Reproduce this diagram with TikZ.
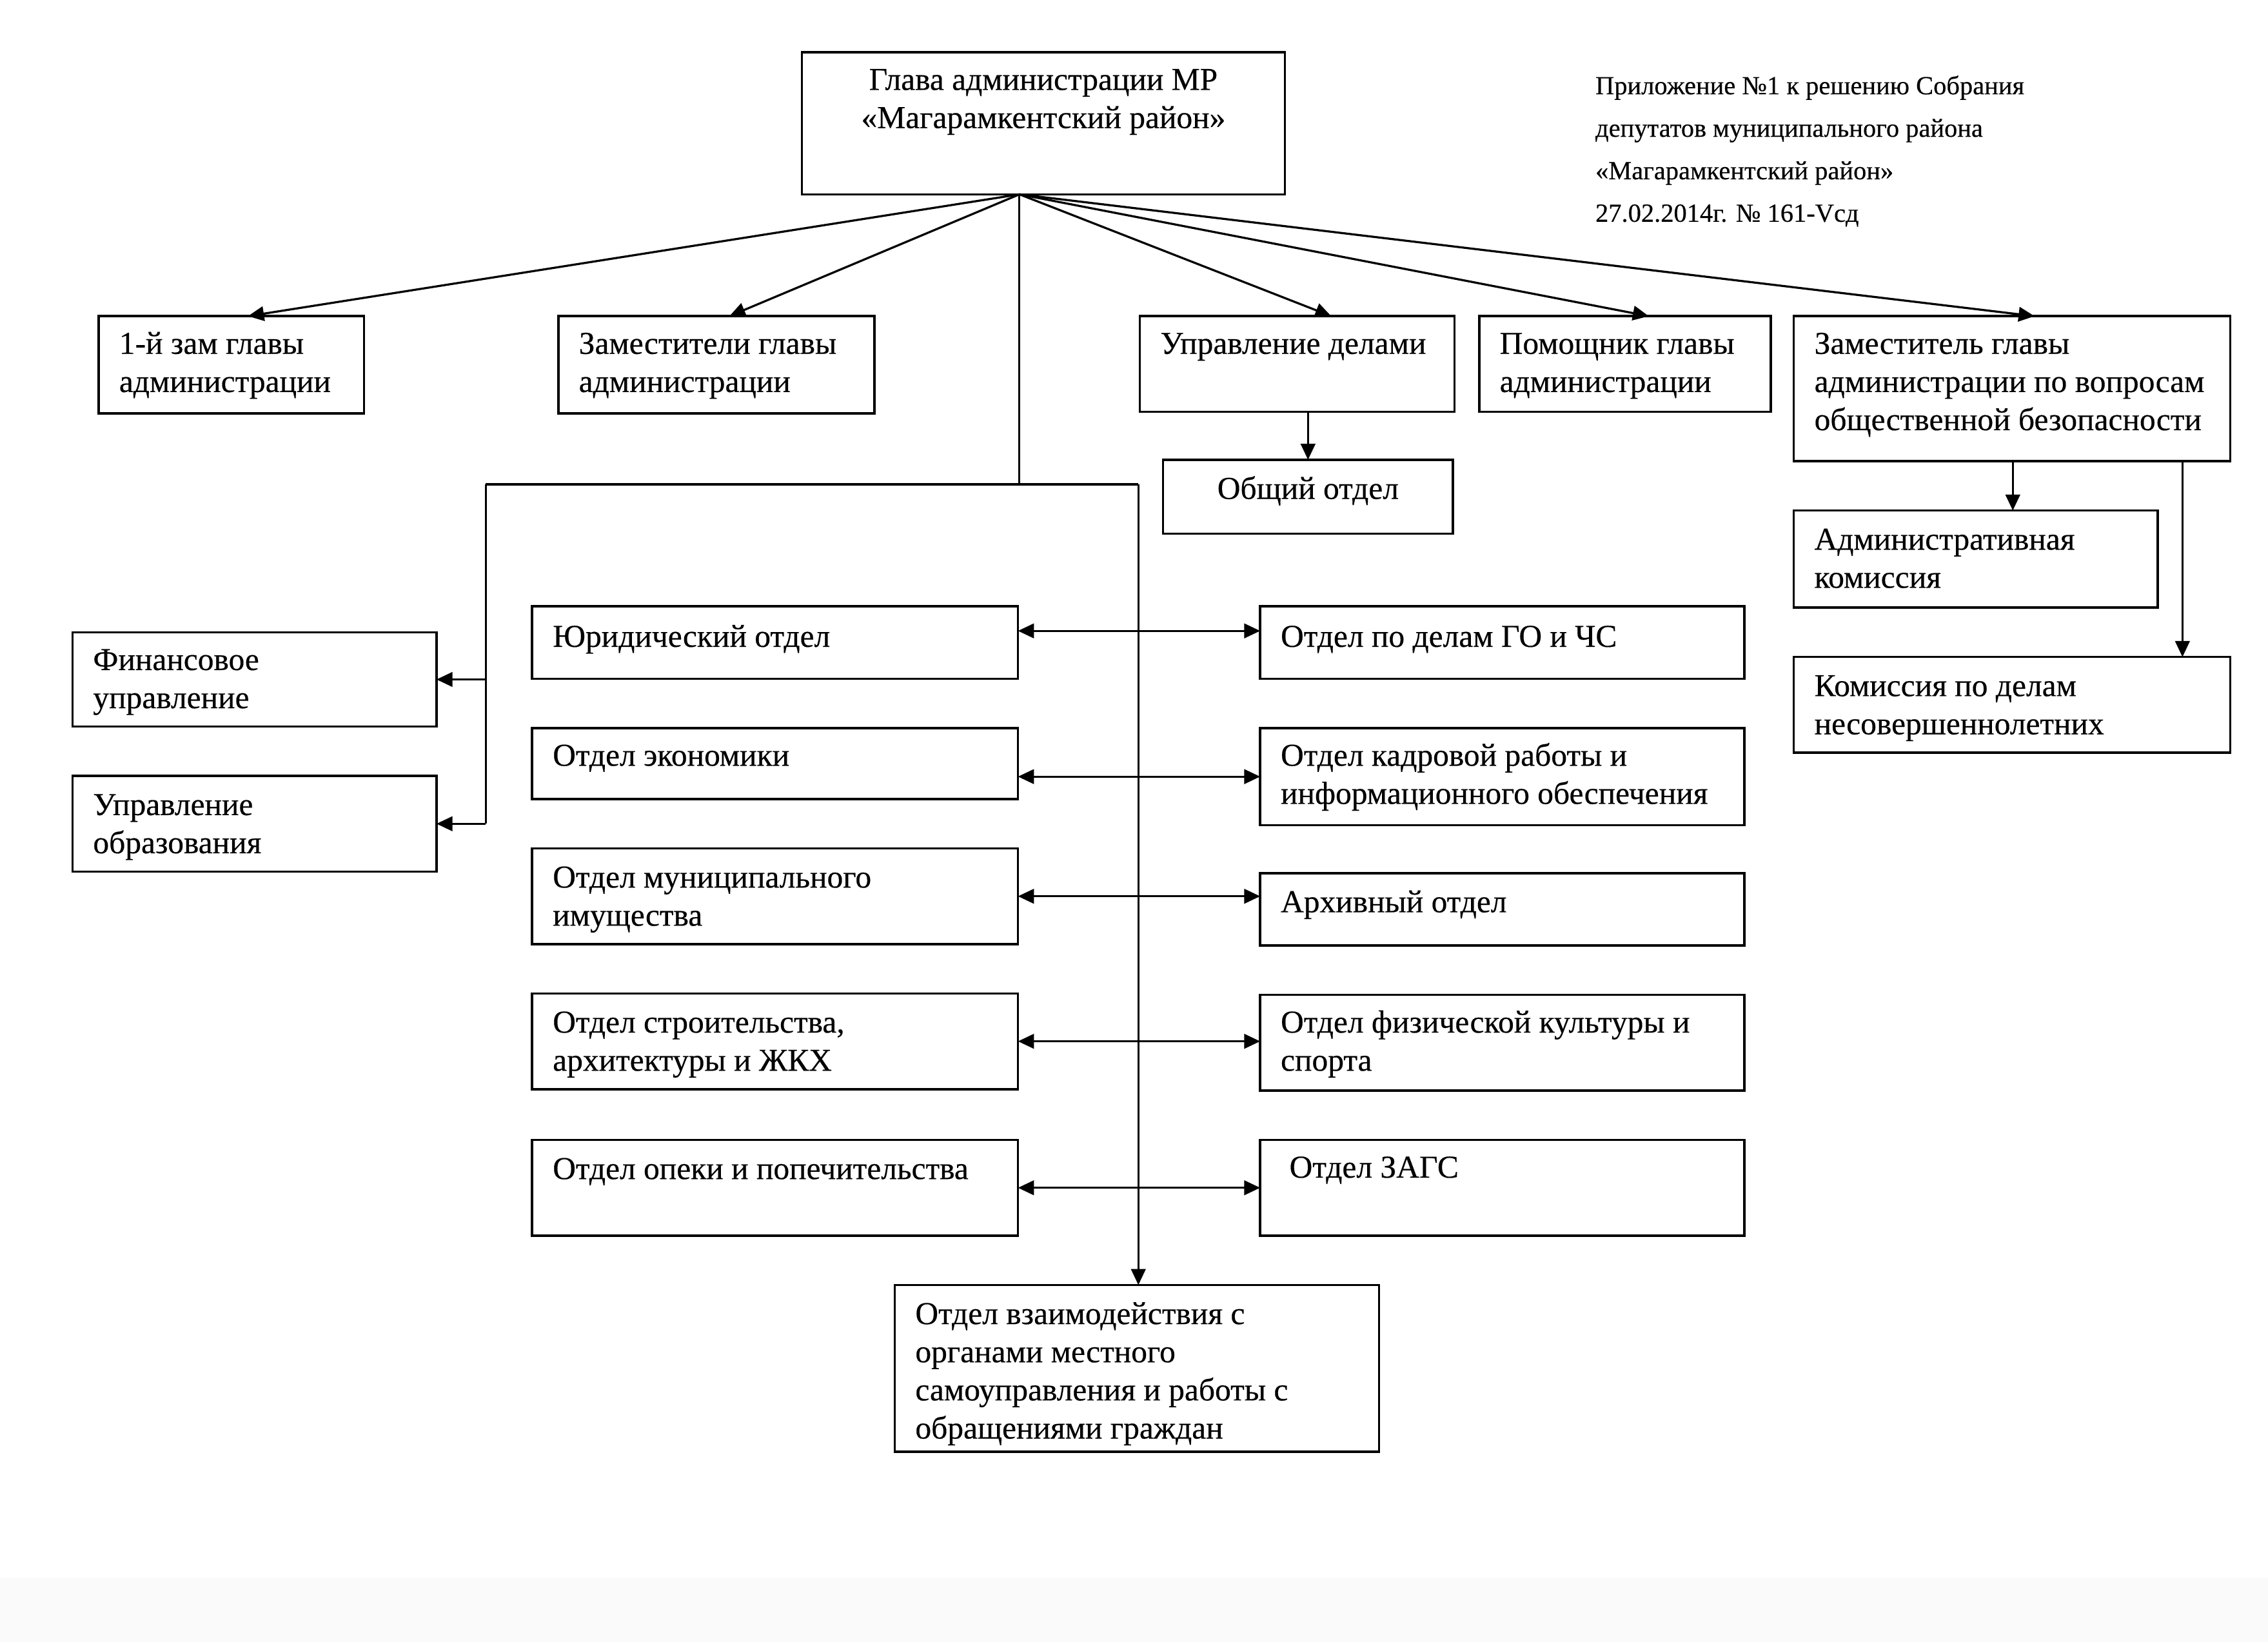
\documentclass[tikz,border=0pt]{standalone}
\usepackage{fontspec}
\setmainfont{Liberation Serif}
\newfontfamily\txtfont[FakeBold=0.35]{Liberation Serif}
\usetikzlibrary{arrows.meta,calc}
\newcommand{\tl}[1]{\begin{tabular}[t]{@{}l@{}}#1\end{tabular}}
\newcommand{\tc}[1]{\begin{tabular}[t]{@{}c@{}}#1\end{tabular}}
\newcommand{\bx}[5]{\node[box, minimum width=#4pt, minimum height=#5pt] (#1) at (#2,#3) {};}
\begin{document}
\begin{tikzpicture}[x=1pt,y=-1pt,
  box/.style={draw, line width=1.6pt, anchor=north west, inner sep=0pt, outer sep=0pt},
  lbl/.style={anchor=base west, inner sep=0pt, font=\txtfont\fontsize{22}{26.3}\selectfont},
  ln/.style={line width=1.45pt},
  arr/.style={line width=1.45pt, -{Triangle[length=11pt,width=10pt]}},
  dbl/.style={line width=1.45pt, {Triangle[length=11pt,width=10pt]}-{Triangle[length=11pt,width=10pt]}}]
\fill[black!2] (0,1088) rectangle (1564,1132);
\useasboundingbox (0,0) rectangle (1564,1132);
% boxes
\bx{G}{553}{36}{333}{98}
\bx{Z1}{68}{218}{183}{67}
\bx{Z2}{385}{218}{218}{67}
\bx{UD}{786}{218}{217}{66}
\bx{PM}{1020}{218}{201}{66}
\bx{ZB}{1237}{218}{301}{100}
\bx{OO}{802}{317}{200}{51}
\bx{AK}{1237}{352}{251}{67}
\bx{KN}{1237}{453}{301}{66}
\bx{FIN}{50}{436}{251}{65}
\bx{OBR}{50}{535}{251}{66}
\bx{L1}{367}{418}{335}{50}
\bx{L2}{367}{502}{335}{49}
\bx{L3}{367}{585}{335}{66}
\bx{L4}{367}{685}{335}{66}
\bx{L5}{367}{786}{335}{66}
\bx{R1}{869}{418}{334}{50}
\bx{R2}{869}{502}{334}{67}
\bx{R3}{869}{602}{334}{50}
\bx{R4}{869}{686}{334}{66}
\bx{R5}{869}{786}{334}{66}
\bx{B}{617}{886}{334}{115}
% texts
\node[lbl, anchor=base] (Gt) at (719.5,62) {\tc{Глава администрации МР\\«Магарамкентский район»}};
\node[lbl, font=\txtfont\fontsize{18}{29.3}\selectfont] (note) at (1100,65) {\tl{Приложение №1 к решению Собрания\\депутатов муниципального района\\«Магарамкентский район»\\27.02.2014г. № 161-Vсд}};
\node[lbl] (Z1t) at (82,244) {\tl{1-й зам главы\\администрации}};
\node[lbl] (Z2t) at (399,244) {\tl{Заместители главы\\администрации}};
\node[lbl] (UDt) at (800,244) {Управление делами};
\node[lbl] (PMt) at (1034,244) {\tl{Помощник главы\\администрации}};
\node[lbl] (ZBt) at (1251,244) {\tl{Заместитель главы\\администрации по вопросам\\общественной безопасности}};
\node[lbl, anchor=base] (OOt) at (902,344) {Общий отдел};
\node[lbl] (AKt) at (1251,379) {\tl{Административная\\комиссия}};
\node[lbl] (KNt) at (1251,480) {\tl{Комиссия по делам\\несовершеннолетних}};
\node[lbl] (FINt) at (64,462) {\tl{Финансовое\\управление}};
\node[lbl] (OBRt) at (64,562) {\tl{Управление\\образования}};
\node[lbl] (L1t) at (381,446) {Юридический отдел};
\node[lbl] (L2t) at (381,528) {Отдел экономики};
\node[lbl] (L3t) at (381,612) {\tl{Отдел муниципального\\имущества}};
\node[lbl] (L4t) at (381,712) {\tl{Отдел строительства,\\архитектуры и ЖКХ}};
\node[lbl] (L5t) at (381,813) {Отдел опеки и попечительства};
\node[lbl] (R1t) at (883,446) {Отдел по делам ГО и ЧС};
\node[lbl] (R2t) at (883,528) {\tl{Отдел кадровой работы и\\информационного обеспечения}};
\node[lbl] (R3t) at (883,629) {Архивный отдел};
\node[lbl] (R4t) at (883,712) {\tl{Отдел физической культуры и\\спорта}};
\node[lbl] (R5t) at (889,812) {Отдел ЗАГС};
\node[lbl] (Bt) at (631,913) {\tl{Отдел взаимодействия с\\органами местного\\самоуправления и работы с\\обращениями граждан}};
% connectors
\coordinate (src) at ($(G.south west)+(150,0)$);
\draw[arr] (src) -- ($(Z1.north west)+(103,0)$);
\draw[arr] (src) -- ($(Z2.north west)+(118,0)$);
\draw[arr] (src) -- ($(UD.north west)+(132,0)$);
\draw[arr] (src) -- ($(PM.north west)+(117,0)$);
\draw[arr] (src) -- ($(ZB.north west)+(166,0)$);
\coordinate (j1) at ($(src)+(0,200)$);
\coordinate (jl) at (335,334);
\coordinate (jr) at (785,334);
\draw[ln] (src) -- (j1);
\draw[ln] (jl) -- (jr);
\draw[arr] (jr) -- (jr |- B.north);
\draw[ln] (jl) -- (jl |- OBR.east);
\draw[arr] (jl |- FIN.east) -- (FIN.east);
\draw[arr] (jl |- OBR.east) -- (OBR.east);
\draw[dbl] ($(L1.north east)+(0,17)$) -- ($(R1.north west)+(0,17)$);
\draw[dbl] (L2.east |- R2.west) -- (R2.west);
\draw[dbl] (L3.east) -- (L3.east -| R3.west);
\draw[dbl] (L4.east) -- (L4.east -| R4.west);
\draw[dbl] (L5.east) -- (R5.west);
\draw[arr] (UD.south -| OO.north) -- (OO.north);
\draw[arr] ($(ZB.south west)+(151,0)$) -- ($(AK.north west)+(151,0)$);
\draw[arr] ($(ZB.south west)+(268,0)$) -- ($(KN.north west)+(268,0)$);
\end{tikzpicture}
\end{document}
